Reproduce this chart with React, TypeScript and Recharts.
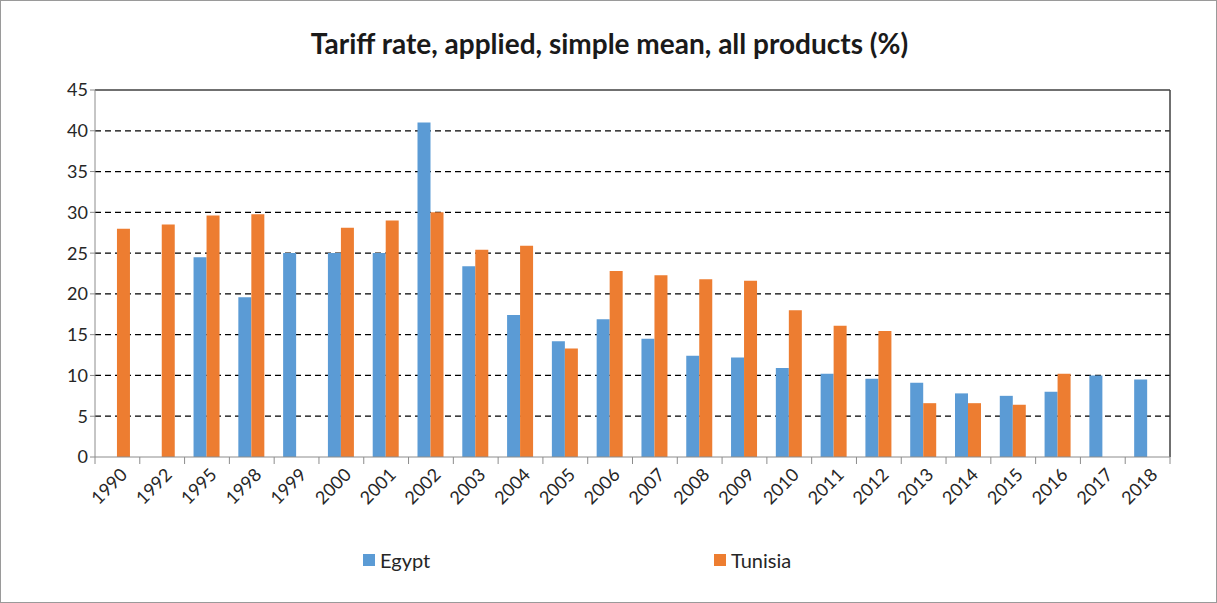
import { BarChart, Bar, XAxis, YAxis, CartesianGrid } from 'recharts';

const years = ['1990', '1992', '1995', '1998', '1999', '2000', '2001', '2002', '2003', '2004', '2005', '2006', '2007', '2008', '2009', '2010', '2011', '2012', '2013', '2014', '2015', '2016', '2017', '2018'];
const egypt = [null, null, 24.5, 19.6, 25.0, 25.0, 25.0, 41.0, 23.4, 17.4, 14.2, 16.9, 14.5, 12.4, 12.2, 10.9, 10.2, 9.6, 9.1, 7.8, 7.5, 8.0, 10.0, 9.5];
const tunisia = [28.0, 28.5, 29.6, 29.75, null, 28.1, 29.0, 30.0, 25.4, 25.9, 13.3, 22.8, 22.3, 21.8, 21.6, 18.0, 16.1, 15.45, 6.6, 6.6, 6.4, 10.2, null, null];
const yTicks = [0, 5, 10, 15, 20, 25, 30, 35, 40, 45];

const data = years.map((year, i) => ({ year, egypt: egypt[i], tunisia: tunisia[i] }));

const FONT = 'Lato, "Noto Sans", sans-serif';

function YearTick(props: any) {
  const { x, y, payload, width } = props;
  const half = width / years.length / 2;
  return (
    <g>
      <line x1={x - half} y1={y - 8} x2={x - half} y2={y - 1} stroke="#8c8c8c" />
      {payload.index === years.length - 1 && (
        <line x1={x + half} y1={y - 8} x2={x + half} y2={y - 1} stroke="#8c8c8c" />
      )}
      <text
        x={x + 6}
        y={y + 6}
        textAnchor="end"
        fontSize={18}
        fill="#262626"
        fontFamily={FONT}
        transform={`rotate(-45 ${x + 6} ${y + 6})`}
        dominantBaseline="central"
      >
        {payload.value}
      </text>
    </g>
  );
}

export default function App() {
  return (
    <div
      style={{
        position: 'absolute',
        left: 0,
        top: 0,
        width: 1217,
        height: 603,
        background: '#fff',
        border: '1px solid #9a9a9a',
        boxSizing: 'border-box',
        fontFamily: FONT,
      }}
    >
      <div
        style={{
          position: 'absolute',
          top: 25,
          left: 0,
          width: 1217,
          textAlign: 'center',
          fontSize: 28,
          fontWeight: 700,
          color: '#1a1a1a',
        }}
      >
        Tariff rate, applied, simple mean, all products (%)
      </div>
      <div style={{ position: 'absolute', left: -1, top: -1 }}>
        <BarChart
          width={1217}
          height={603}
          data={data}
          margin={{ top: 90, right: 47, bottom: 76, left: 35 }}
          barCategoryGap="20%"
          barGap={0}
        >
          <CartesianGrid vertical={false} stroke="#000" strokeWidth={1.3} strokeDasharray="6 4" horizontalValues={[5, 10, 15, 20, 25, 30, 35, 40]} />
          <XAxis
            dataKey="year"
            interval={0}
            height={70}
            tickLine={false}
            axisLine={{ stroke: '#8c8c8c' }}
            tick={<YearTick />}
          />
          <YAxis
            domain={[0, 45]}
            ticks={yTicks}
            width={60}
            interval={0}
            tickSize={5}
            tickLine={{ stroke: '#8c8c8c' }}
            axisLine={{ stroke: '#8c8c8c' }}
            tick={{ fill: '#262626', fontSize: 18, fontFamily: FONT }}
          />
          <Bar dataKey="egypt" name="Egypt" fill="#5B9BD5" isAnimationActive={false} />
          <Bar dataKey="tunisia" name="Tunisia" fill="#ED7D31" isAnimationActive={false} />
          {/* plot area border (top and right) */}
          <line x1={95} y1={90} x2={1170} y2={90} stroke="#404040" strokeWidth={1.5} />
          <line x1={1170} y1={90} x2={1170} y2={457} stroke="#404040" strokeWidth={1.5} />
        </BarChart>
      </div>
      <div style={{ position: 'absolute', top: 547, left: 362, display: 'flex', alignItems: 'center', fontSize: 20, color: '#262626' }}>
        <span style={{ display: 'inline-block', width: 12, height: 12, background: '#5B9BD5', marginRight: 5 }} />
        Egypt
      </div>
      <div style={{ position: 'absolute', top: 547, left: 713, display: 'flex', alignItems: 'center', fontSize: 20, color: '#262626' }}>
        <span style={{ display: 'inline-block', width: 12, height: 12, background: '#ED7D31', marginRight: 5 }} />
        Tunisia
      </div>
    </div>
  );
}
